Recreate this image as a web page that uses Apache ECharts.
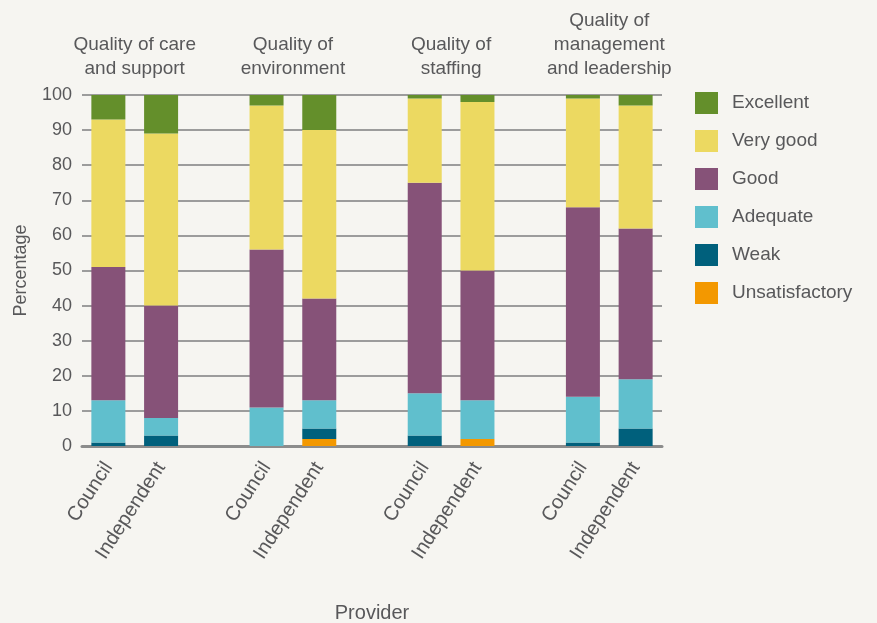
<!DOCTYPE html>
<html>
<head>
<meta charset="utf-8">
<script src="https://cdn.jsdelivr.net/npm/echarts@6/dist/echarts.min.js"></script>
<style>
  html, body { margin: 0; padding: 0; background: #f6f5f1; }
  #chart { width: 877px; height: 623px; }
</style>
</head>
<body>
<div id="chart"></div>
<script>
// ---- data ----
const groups = ['Quality of care\nand support', 'Quality of\nenvironment', 'Quality of\nstaffing', 'Quality of\nmanagement\nand leadership'];
const providers = ['Council', 'Independent'];
const levels = ['Unsatisfactory', 'Weak', 'Adequate', 'Good', 'Very good', 'Excellent'];
// bar order: care C, care I, env C, env I, staff C, staff I, mgmt C, mgmt I
const unsatisfactory = [0, 0, 0, 2, 0, 2, 0, 0];
const weak           = [1, 3, 0, 3, 3, 0, 1, 5];
const adequate       = [12, 5, 11, 8, 12, 11, 13, 14];
const good           = [38, 32, 45, 29, 60, 37, 54, 43];
const veryGood       = [42, 49, 41, 48, 24, 48, 31, 35];
const excellent      = [7, 11, 3, 10, 1, 2, 1, 3];
const yTicks = [0, 10, 20, 30, 40, 50, 60, 70, 80, 90, 100];

const colors = {
  'Unsatisfactory': '#f39800',
  'Weak': '#00607c',
  'Adequate': '#60bfcd',
  'Good': '#865278',
  'Very good': '#ecd961',
  'Excellent': '#648f2b'
};
const levelValues = {
  'Unsatisfactory': unsatisfactory, 'Weak': weak, 'Adequate': adequate,
  'Good': good, 'Very good': veryGood, 'Excellent': excellent
};

// build slots with gaps between groups
const slotLabels = [];
const slotBar = []; // index into bar arrays or -1
const groupSlots = [];
groups.forEach((g, gi) => {
  const s = [];
  providers.forEach((p, pi) => {
    s.push(slotLabels.length);
    slotLabels.push(p);
    slotBar.push(gi * providers.length + pi);
  });
  groupSlots.push(s);
  if (gi < groups.length - 1) { slotLabels.push(''); slotBar.push(-1); }
});

const textColor = '#58585a';
const series = levels.map(lv => ({
  name: lv,
  type: 'bar',
  stack: 'total',
  barWidth: 34,
  itemStyle: { color: colors[lv] },
  data: slotBar.map(b => b < 0 ? null : (levelValues[lv][b] || null))
}));

const chart = echarts.init(document.getElementById('chart'));
chart.setOption({
  backgroundColor: '#f6f5f1',
  animation: false,
  textStyle: { fontFamily: "'Liberation Sans', Arial, sans-serif" },
  grid: { left: 82, right: 215, top: 95, bottom: 177, containLabel: false, outerBoundsMode: 'none' },
  legend: {
    orient: 'vertical',
    left: 695,
    top: 92,
    padding: 0,
    icon: 'rect',
    itemWidth: 23,
    itemHeight: 22,
    itemGap: 16,
    data: levels.slice().reverse(),
    textStyle: { color: textColor, fontSize: 19, padding: [0, 0, 0, 9] }
  },
  xAxis: {
    type: 'category',
    data: slotLabels.map((l, i) => l + '\u200b'.repeat(i)),
    name: 'Provider',
    nameLocation: 'middle',
    nameGap: 157,
    nameTextStyle: { color: textColor, fontSize: 20 },
    axisLine: { lineStyle: { color: '#8c8c8c', width: 3 } },
    axisTick: { show: false },
    axisLabel: {
      interval: 0,
      rotate: 57,
      margin: 18,
      color: textColor,
      fontSize: 20,
      formatter: v => v.replace(/\u200b/g, '')
    }
  },
  yAxis: {
    type: 'value',
    min: yTicks[0],
    max: yTicks[yTicks.length - 1],
    interval: 10,
    name: 'Percentage',
    nameLocation: 'middle',
    nameRotate: 90,
    nameGap: 52,
    nameTextStyle: { color: textColor, fontSize: 18 },
    axisLine: { show: false },
    axisTick: { show: false },
    axisLabel: { color: textColor, fontSize: 18, margin: 10 },
    splitLine: { lineStyle: { color: '#9c9c9c', width: 2 } }
  },
  series: series
});

// group headers centred over each pair of bars
const headerGraphics = groups.map((g, gi) => {
  const s = groupSlots[gi];
  const x0 = chart.convertToPixel({ xAxisIndex: 0 }, s[0]);
  const x1 = chart.convertToPixel({ xAxisIndex: 0 }, s[s.length - 1]);
  return {
    type: 'text',
    x: (x0 + x1) / 2,
    y: 81,
    style: {
      text: g,
      fill: textColor,
      fontSize: 19,
      lineHeight: 24,
      fontFamily: "'Liberation Sans', Arial, sans-serif",
      textAlign: 'center',
      textVerticalAlign: 'bottom'
    }
  };
});
chart.setOption({ graphic: headerGraphics });
</script>
</body>
</html>
